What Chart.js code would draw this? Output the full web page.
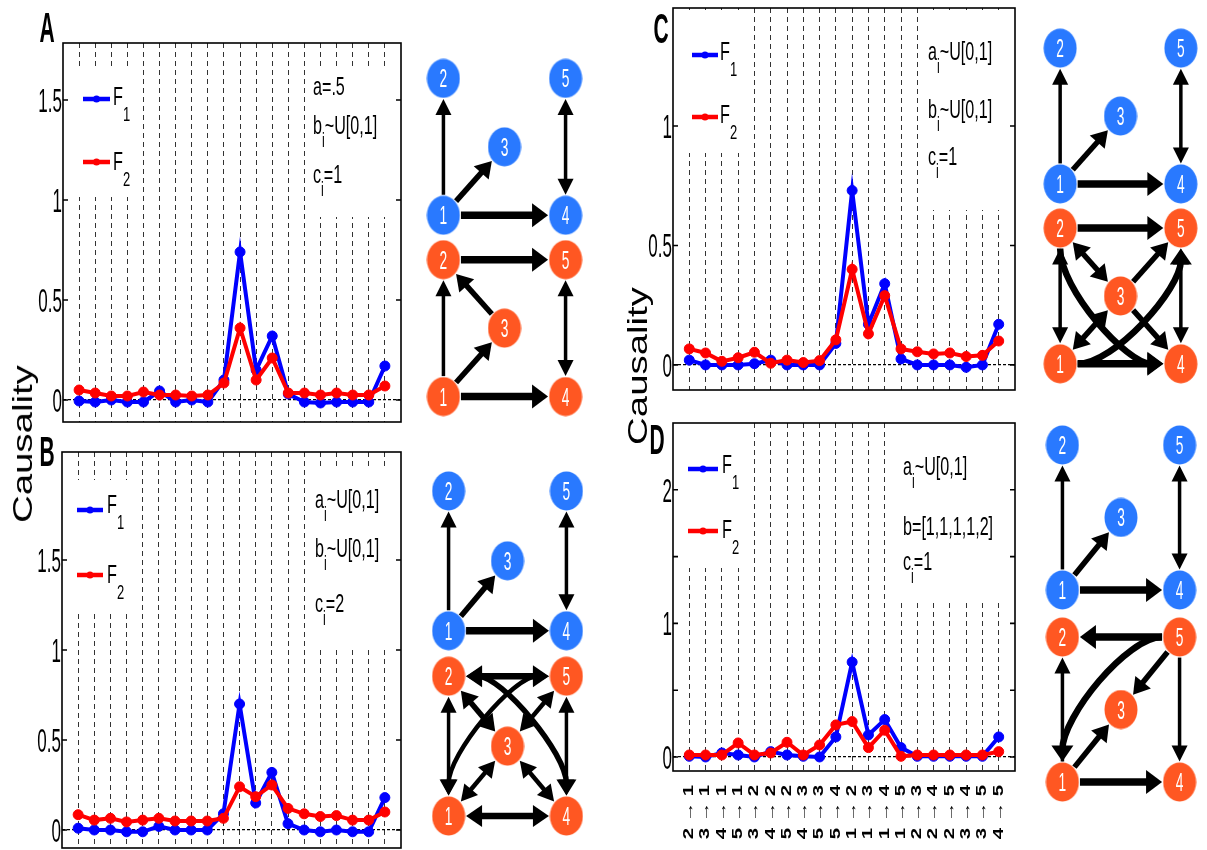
<!DOCTYPE html>
<html>
<head>
<meta charset="utf-8">
<script src="https://cdn.jsdelivr.net/npm/chart.js@4.4.1/dist/chart.umd.min.js"></script>
<style>
  body { margin: 0; width: 1207px; height: 850px; overflow: hidden; background: #fff; position: relative; }
  canvas { position: absolute; }
  .lbl { position: absolute; font: bold 42px "Liberation Sans", Arial, sans-serif; line-height: 1; white-space: nowrap;
         transform: translate(-50%, -50%) scaleX(0.5); }
  .ylab { position: absolute; font: 28px "Liberation Sans", Arial, sans-serif; line-height: 1; white-space: nowrap;
          transform: translate(-50%, -50%) rotate(-90deg) scaleX(1.37); }
</style>
</head>
<body>
<div class="lbl" style="left:47px;top:28px">A</div>
<div class="lbl" style="left:47px;top:452px">B</div>
<div class="lbl" style="left:661px;top:29px">C</div>
<div class="lbl" style="left:657px;top:440px">D</div>
<div class="ylab" style="left:23px;top:444px">Causality</div>
<div class="ylab" style="left:638px;top:366px">Causality</div>

<script>
// x categories (source -> target)
const pairs = ['2→1', '3→1', '4→1', '5→1', '3→2', '4→2', '5→2', '4→3', '5→3', '5→4',
               '1→2', '1→3', '1→4', '1→5', '2→3', '2→4', '2→5', '3→4', '3→5', '4→5'];

// causality values
const f1A = [-0.005, -0.01, 0, -0.01, -0.01, 0.045, -0.01, 0, -0.01, 0.1, 0.74, 0.15, 0.32, 0.03, -0.01, -0.015, -0.01, -0.01, -0.01, 0.17];
const f2A = [0.05, 0.035, 0.02, 0.02, 0.04, 0.025, 0.025, 0.02, 0.025, 0.085, 0.36, 0.1, 0.21, 0.035, 0.035, 0.025, 0.035, 0.025, 0.025, 0.07];
const f1B = [0.01, 0, 0, -0.01, -0.01, 0.02, 0, 0, 0, 0.09, 0.7, 0.15, 0.32, 0.035, 0, -0.01, 0, -0.01, -0.01, 0.18];
const f2B = [0.085, 0.055, 0.065, 0.045, 0.055, 0.065, 0.05, 0.05, 0.05, 0.065, 0.24, 0.185, 0.25, 0.12, 0.09, 0.075, 0.08, 0.055, 0.055, 0.1];
const f1C = [0.02, 0, 0, 0, 0.005, 0.02, 0, 0, 0, 0.09, 0.73, 0.17, 0.34, 0.025, 0, 0, 0, -0.01, 0, 0.17];
const f2C = [0.067, 0.05, 0.015, 0.03, 0.053, 0.007, 0.02, 0.01, 0.018, 0.105, 0.4, 0.13, 0.29, 0.067, 0.055, 0.046, 0.05, 0.035, 0.04, 0.1];
const f1D = [0.005, 0, 0.03, 0.015, 0, 0.04, 0.015, 0.005, 0, 0.15, 0.71, 0.165, 0.28, 0.07, 0.005, 0.005, 0.005, 0.005, 0.005, 0.15];
const f2D = [0.015, 0.015, 0.015, 0.105, 0.015, 0.03, 0.11, 0.015, 0.09, 0.24, 0.265, 0.07, 0.2, 0.005, 0.015, 0.015, 0.015, 0.015, 0.015, 0.04];

// parameter notes (underscore = subscript)
const notesA = ['a=.5', 'b_i~U[0,1]', 'c_i=1'];
const notesB = ['a_i~U[0,1]', 'b_i~U[0,1]', 'c_i=2'];
const notesC = ['a_i~U[0,1]', 'b_i~U[0,1]', 'c_i=1'];
const notesD = ['a_i~U[0,1]', 'b=[1,1,1,1,2]', 'c_i=1'];

// network: nodes 1..5, layout coordinates
const nodeIds = [1, 2, 3, 4, 5];
const nodeX = [0, 0, 0.5, 1, 1];
const blueY = [2, 0, 1, 2, 0];
const orangeY = [4.65, 2.65, 3.65, 4.65, 2.65];

// edges: [from, to, both directions?, strength, curve]
const blueEdges = [[1, 2, 0, 1], [1, 3, 0, 2], [1, 4, 0, 3], [4, 5, 1, 1]];
const edgesA = [[2, 5, 0, 3], [3, 2, 0, 2], [1, 2, 0, 1], [1, 3, 0, 2], [1, 4, 0, 3], [4, 5, 1, 1]];
const edgesB = [[2, 5, 1, 2.5], [1, 2, 1, 1], [4, 5, 1, 1], [1, 4, 1, 2.5], [2, 3, 1, 2], [3, 5, 1, 1.5],
                [1, 3, 1, 1.5], [3, 4, 1, 1.5], [2, 4, 1, 2, 'hv'], [1, 5, 1, 1.5, 'vh']];
const edgesC = [[2, 5, 0, 3], [1, 2, 1, 1], [4, 5, 1, 1], [1, 4, 0, 3], [2, 3, 1, 2], [3, 5, 0, 2],
                [3, 4, 0, 2], [1, 3, 1, 2], [2, 4, 0, 2.5, 'vh'], [1, 5, 0, 2.5, 'hv']];
const edgesD = [[5, 2, 0, 3], [1, 2, 0, 1], [5, 3, 0, 2], [5, 4, 0, 1], [1, 3, 0, 2], [1, 4, 0, 3], [5, 1, 0, 2.5, 'hv']];

const FONT = '"Liberation Sans", Arial, sans-serif';

function sText(ctx, str, x, y, font, sx, align, color) {
  ctx.save();
  ctx.font = font;
  ctx.fillStyle = color || '#000';
  ctx.textAlign = align || 'left';
  ctx.textBaseline = 'alphabetic';
  ctx.translate(x, y);
  ctx.scale(sx, 1);
  ctx.fillText(str, 0, 0);
  ctx.restore();
}

function richText(ctx, str, x, y, size, subSize, subOff, sx) {
  const parts = str.split(/_(.)/);
  let cx = x;
  parts.forEach((seg, k) => {
    const sub = k % 2 === 1;
    const font = (sub ? subSize : size) + 'px ' + FONT;
    sText(ctx, seg, cx, sub ? y + subOff : y, font, sx, 'left');
    ctx.save();
    ctx.font = font;
    cx += ctx.measureText(seg).width * sx;
    ctx.restore();
  });
}

const near = (list, v) => list.some(m => Math.abs(m - v) < 1e-6);

const panelDeco = {
  id: 'panelDeco',
  beforeDatasetsDraw(chart, args, o) {
    const a = chart.chartArea, ctx = chart.ctx;
    ctx.save();
    ctx.fillStyle = '#fff';
    o.boxes.forEach(b => ctx.fillRect(a.left + b[0], a.top + b[1], b[2] - b[0], b[3] - b[1]));
    ctx.restore();
  },
  afterDraw(chart, args, o) {
    const ctx = chart.ctx, a = chart.chartArea, xs = chart.scales.x, ys = chart.scales.y;
    ctx.save();
    ctx.strokeStyle = '#000';
    ctx.lineWidth = 1.6;
    ctx.strokeRect(a.left, a.top, a.width, a.height);
    ys.ticks.forEach(t => {
      const v = t.value, py = ys.getPixelForValue(v);
      if (near(o.marks, v)) {
        ctx.beginPath();
        ctx.moveTo(a.left, py); ctx.lineTo(a.left + 5, py);
        ctx.moveTo(a.right, py); ctx.lineTo(a.right - 5, py);
        ctx.stroke();
      }
      if (near(o.labels, v)) sText(ctx, String(+v.toFixed(2)), a.left - 1, py + 12, '34px ' + FONT, 0.5, 'right');
    });

    // legend
    const cols = ['#0000ff', '#ff0000'];
    o.leg.rows.forEach((r, i) => {
      const y = a.top + r[0];
      ctx.strokeStyle = cols[i];
      ctx.fillStyle = cols[i];
      ctx.lineWidth = 4.5;
      ctx.beginPath();
      ctx.moveTo(a.left + o.leg.x0, y);
      ctx.lineTo(a.left + o.leg.x1, y);
      ctx.stroke();
      ctx.beginPath();
      ctx.arc(a.left + (o.leg.x0 + o.leg.x1) / 2, y, 3.5, 0, Math.PI * 2);
      ctx.fill();
      ctx.fillStyle = '#000';
      richText(ctx, 'F_' + (i + 1), a.left + o.leg.tx, a.top + r[1], 25, 20, 16, 0.65);
    });

    // parameter notes
    o.notes.forEach((s, i) => richText(ctx, s, a.left + o.noteX, a.top + o.noteY[i], 26, 20, 13, 0.62));

    // rotated pair labels under panel D
    if (o.xLabels) {
      xs.ticks.forEach(t => {
        const i = Math.round(t.value);
        if (i < 1 || i > 20) return;
        const px = xs.getPixelForValue(i);
        ctx.save();
        ctx.translate(px, a.bottom + 14);
        ctx.rotate(-Math.PI / 2);
        ctx.scale(1.45, 1);
        ctx.font = 'bold 14px ' + FONT;
        ctx.fillStyle = '#000';
        ctx.textAlign = 'right';
        ctx.textBaseline = 'middle';
        ctx.fillText(o.xLabels[i - 1].replace('→', ' → '), 0, 0);
        ctx.restore();
      });
    }
    ctx.restore();
  }
};

function makeCanvas(left, top, w, h) {
  const c = document.createElement('canvas');
  c.width = w; c.height = h;
  c.style.left = left + 'px'; c.style.top = top + 'px';
  c.style.width = w + 'px'; c.style.height = h + 'px';
  document.body.insertBefore(c, document.body.firstChild);
  return c;
}

function linePanel(p) {
  const [l, t, r, b] = p.plot;
  const m = { left: 60, top: 10, right: 10, bottom: 80 };
  const cv = makeCanvas(l - m.left, t - m.top, r - l + m.left + m.right, b - t + m.top + m.bottom);
  const series = (vals, color, order) => ({
    data: vals.map((v, i) => ({ x: i + 1, y: v })),
    borderColor: color, backgroundColor: color,
    borderWidth: 4, pointRadius: 5, pointBorderWidth: 1,
    pointStyle: 'circle', order: order, tension: 0
  });
  new Chart(cv, {
    type: 'line',
    data: { datasets: [series(p.f1, '#0000ff', 1), series(p.f2, '#ff0000', 0)] },
    options: {
      responsive: false, animation: false,
      layout: { padding: m },
      plugins: {
        legend: { display: false }, tooltip: { enabled: false },
        panelDeco: p.deco
      },
      scales: {
        x: {
          type: 'linear', min: 0, max: 21,
          ticks: { display: false, stepSize: 1, autoSkip: false },
          grid: { drawTicks: false, lineWidth: 1, color: c => (c.tick.value > 0.5 && c.tick.value < 20.5) ? '#333' : 'rgba(0,0,0,0)' },
          border: { display: false, dash: [5, 4] }
        },
        y: {
          min: p.y[0], max: p.y[1],
          ticks: { display: false, stepSize: 0.5 },
          grid: { drawTicks: false, lineWidth: 1.2, color: c => Math.abs(c.tick.value) < 1e-9 ? '#000' : 'rgba(0,0,0,0)' },
          border: { display: false, dash: [3, 2] }
        }
      }
    },
    plugins: [panelDeco]
  });
}

linePanel({ plot: [63, 43, 401, 422], y: [-0.11, 1.785], f1: f1A, f2: f2A, deco: {
  labels: [0, 0.5, 1, 1.5], marks: [0, 0.5, 1, 1.5],
  boxes: [[7, 24, 75, 154], [247, 24, 338, 174]],
  leg: { x0: 20, x1: 47, tx: 50, rows: [[56, 62], [119, 127]] },
  notes: notesA, noteX: 250, noteY: [52, 91, 140] } });
linePanel({ plot: [62, 452, 401, 848], y: [-0.1, 2.1], f1: f1B, f2: f2B, deco: {
  labels: [0, 0.5, 1, 1.5], marks: [0, 0.5, 1, 1.5],
  boxes: [[6, 28, 73, 161], [248, 15, 339, 198]],
  leg: { x0: 15, x1: 41, tx: 45, rows: [[58, 61], [123, 131]] },
  notes: notesB, noteX: 253, noteY: [56, 105, 160] } });
linePanel({ plot: [673, 8, 1015, 390], y: [-0.105, 1.494], f1: f1C, f2: f2C, deco: {
  labels: [0, 0.5, 1], marks: [0, 0.5, 1],
  boxes: [[7, 2, 72, 145], [252, 2, 342, 202]],
  leg: { x0: 19, x1: 45, tx: 47, rows: [[47, 52], [109, 115]] },
  notes: notesC, noteX: 255, noteY: [52, 110, 157] } });
linePanel({ plot: [673, 423, 1015, 771], y: [-0.105, 2.5], f1: f1D, f2: f2D, deco: {
  labels: [0, 1, 2], marks: [0, 0.5, 1, 1.5, 2],
  boxes: [[7, 0, 72, 145], [220, 0, 342, 180]],
  leg: { x0: 15, x1: 45, tx: 49, rows: [[46, 50], [108, 115]] },
  notes: notesD, noteX: 230, noteY: [52, 112, 147], xLabels: pairs } });

// ---- network diagrams ----
const RX = 16.5, RY = 19.5;

function nodeImg(color) {
  const c = document.createElement('canvas');
  c.width = 34; c.height = 40;
  const g = c.getContext('2d');
  g.fillStyle = color;
  g.beginPath();
  g.ellipse(17, 20, RX, RY, 0, 0, Math.PI * 2);
  g.fill();
  return c;
}

function unit(dx, dy) {
  const len = Math.hypot(dx, dy) || 1;
  return { x: dx / len, y: dy / len };
}
const trim = u => 1 / Math.sqrt((u.x / RX) ** 2 + (u.y / RY) ** 2) + 1;

function head(ctx, tip, u, w) {
  const hl = 16, hw = 4.5 + w;
  const bx = tip.x - u.x * hl, by = tip.y - u.y * hl;
  ctx.beginPath();
  ctx.moveTo(tip.x, tip.y);
  ctx.lineTo(bx - u.y * hw, by + u.x * hw);
  ctx.lineTo(bx + u.y * hw, by - u.x * hw);
  ctx.closePath();
  ctx.fill();
}

function drawEdge(ctx, p, q, both, w, curve) {
  const dx = q.x - p.x, dy = q.y - p.y, K = 0.45;
  let c1 = null, c2 = null, u0, u1;
  if (curve === 'hv') { c1 = { x: p.x + dx * K, y: p.y }; c2 = { x: q.x, y: q.y - dy * K }; }
  if (curve === 'vh') { c1 = { x: p.x, y: p.y + dy * K }; c2 = { x: q.x - dx * K, y: q.y }; }
  if (c1) { u0 = unit(c1.x - p.x, c1.y - p.y); u1 = unit(q.x - c2.x, q.y - c2.y); }
  else { u0 = u1 = unit(dx, dy); }
  const s = { x: p.x + u0.x * trim(u0), y: p.y + u0.y * trim(u0) };
  const e = { x: q.x - u1.x * trim(u1), y: q.y - u1.y * trim(u1) };
  const back = 12;
  const e2 = { x: e.x - u1.x * back, y: e.y - u1.y * back };
  const s2 = both ? { x: s.x + u0.x * back, y: s.y + u0.y * back } : s;
  ctx.lineWidth = w;
  ctx.beginPath();
  ctx.moveTo(s2.x, s2.y);
  if (c1) ctx.bezierCurveTo(c1.x, c1.y, c2.x, c2.y, e2.x, e2.y);
  else ctx.lineTo(e2.x, e2.y);
  ctx.stroke();
  head(ctx, e, u1, w);
  if (both) head(ctx, s, { x: -u0.x, y: -u0.y }, w);
}

const netDeco = {
  id: 'netDeco',
  beforeDatasetsDraw(chart, args, o) {
    const ctx = chart.ctx, xs = chart.scales.x, ys = chart.scales.y;
    const pos = (rows, id) => ({ x: xs.getPixelForValue(nodeX[id - 1]), y: ys.getPixelForValue(rows[id - 1]) });
    ctx.save();
    ctx.strokeStyle = '#000';
    ctx.fillStyle = '#000';
    ctx.lineCap = 'butt';
    const run = (list, rows) => list.forEach(e => {
      const w = 1.5 + e[3] * 2;
      drawEdge(ctx, pos(rows, e[0]), pos(rows, e[1]), e[2], w, e[4]);
    });
    run(blueEdges, blueY);
    run(o.edges, orangeY);
    ctx.restore();
  },
  afterDatasetsDraw(chart) {
    const ctx = chart.ctx;
    chart.data.datasets.forEach((ds, di) => {
      chart.getDatasetMeta(di).data.forEach((pt, i) => {
        sText(ctx, String(nodeIds[i]), pt.x, pt.y + 9, '25px ' + FONT, 0.55, 'center', '#fff');
      });
    });
  }
};

const blueImg = nodeImg('#2979ff');
const orangeImg = nodeImg('#ff5722');

function network(x0, xu, y0, yu, edges) {
  const cv = makeCanvas(Math.round(x0 - 0.2 * xu), Math.round(y0 - 0.4 * yu), Math.round(1.4 * xu), Math.round(5.45 * yu));
  const nodes = (rows, img) => ({
    data: nodeX.map((x, i) => ({ x: x, y: rows[i] })),
    pointStyle: img, pointRadius: 18, showLine: false, clip: false
  });
  new Chart(cv, {
    type: 'scatter',
    data: { datasets: [nodes(blueY, blueImg), nodes(orangeY, orangeImg)] },
    options: {
      responsive: false, animation: false,
      layout: { padding: 0 },
      plugins: { legend: { display: false }, tooltip: { enabled: false }, netDeco: { edges: edges } },
      scales: {
        x: { display: false, min: -0.2, max: 1.2 },
        y: { display: false, reverse: true, min: -0.4, max: 5.05 }
      }
    },
    plugins: [netDeco]
  });
}

network(430, 149, 62, 75.5, edgesA);
network(435, 145, 475, 76.8, edgesB);
network(1047, 148, 32, 74.8, edgesC);
network(1049, 144, 429, 79.4, edgesD);
</script>
</body>
</html>
